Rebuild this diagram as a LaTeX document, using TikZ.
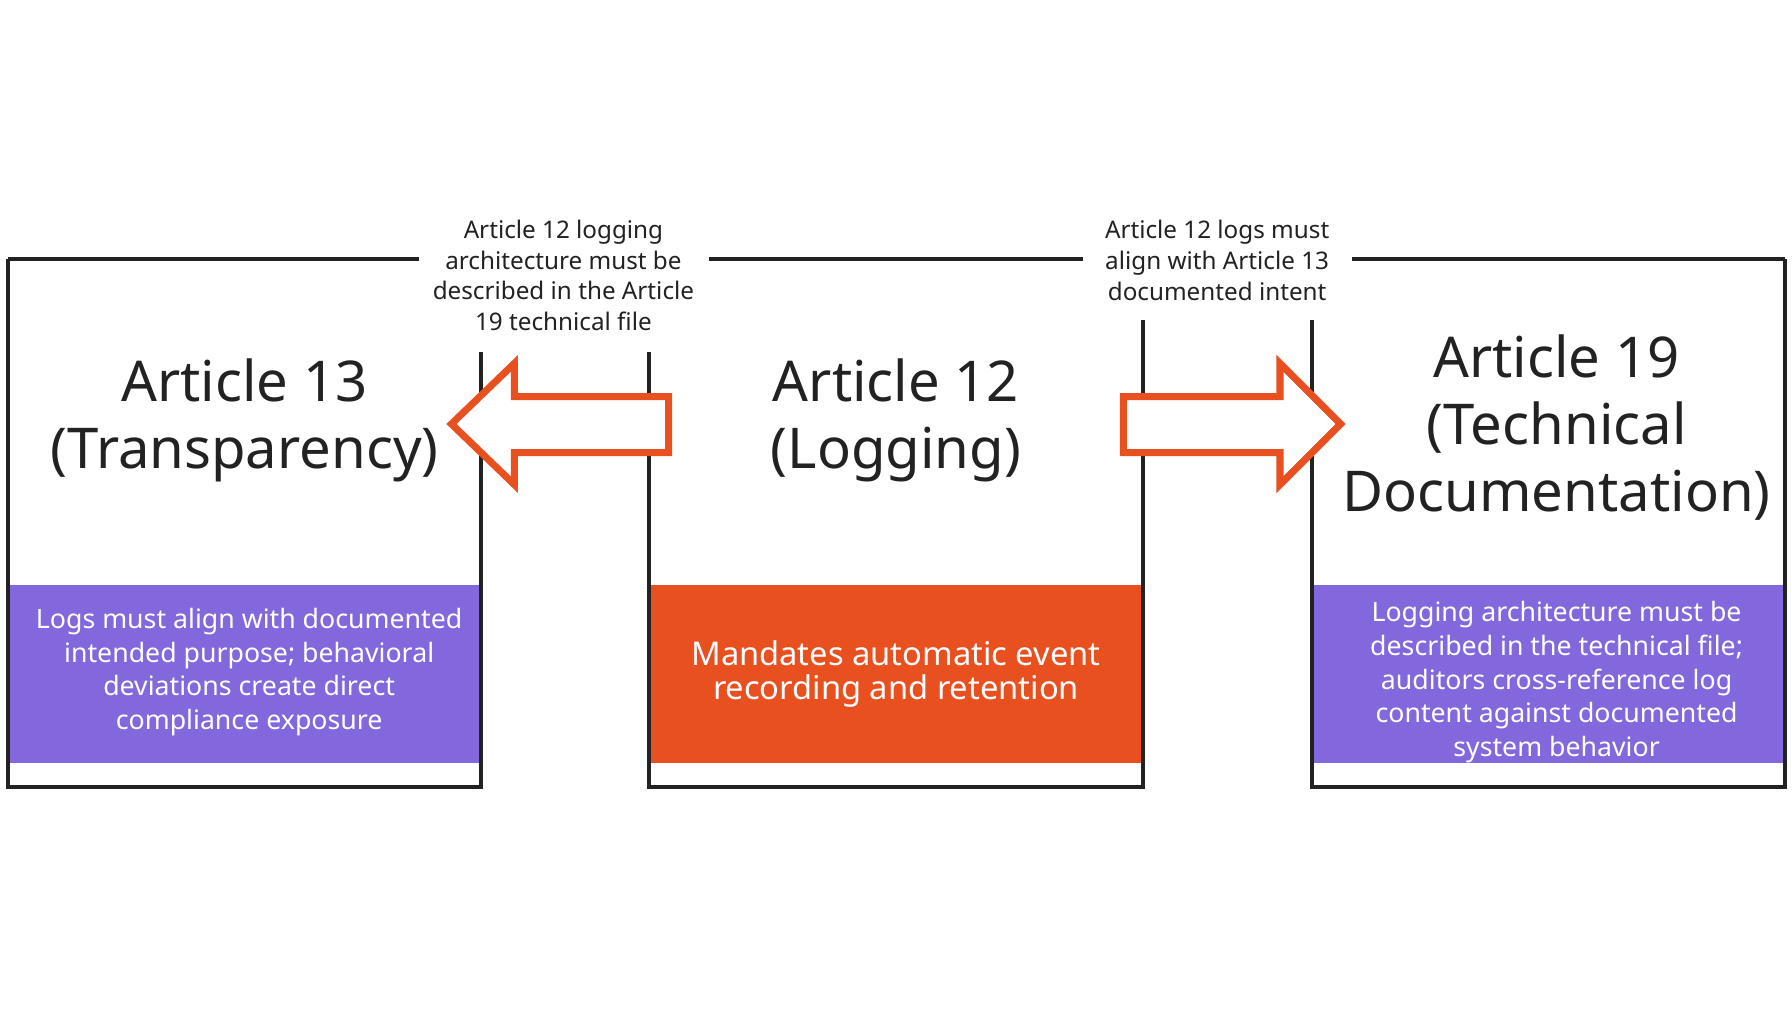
\documentclass[tikz,border=0pt]{standalone}
\usepackage{fontspec}
\setmainfont{Noto Sans}
\definecolor{purp}{HTML}{8367DD}
\definecolor{orng}{HTML}{E8501F}
\definecolor{ink}{HTML}{222222}
\begin{document}
\begin{tikzpicture}[x=0.011429cm,y=-0.011429cm,
  frame/.style={draw=ink,line width=1.1pt},
  title/.style={font=\fontsize{16}{19}\selectfont\bfseries,text=ink,align=center},
  lab/.style={font=\fontsize{6.9}{8.8}\selectfont,text=ink,align=center,fill=white,inner sep=1pt},
  band/.style={font=\fontsize{7.6}{9.6}\selectfont,text=white,align=center},
  arr/.style={draw=orng,line width=2pt,fill=white,line join=miter}]
\useasboundingbox (0,0) rectangle (1568,896);
\fill[white] (0,0) rectangle (1568,896);
% bands
\fill[purp] (7,512) rectangle (421,668);
\fill[orng] (568,512) rectangle (1000,668);
\fill[purp] (1148,512) rectangle (1562,668);
% frames
\coordinate (tl) at (7,227); \coordinate (tr) at (1562,227);
\draw[frame] (7,227) -- (367,227);
\draw[frame] (620,227) -- (948,227);
\draw[frame] (1183,227) -- (1562,227);
\draw[frame] (7,227) -- (7,689) -- (421,689) -- (421,308);
\draw[frame] (568,308) -- (568,689) -- (1000,689) -- (1000,280);
\draw[frame] (1148,280) -- (1148,689) -- (1562,689) -- (1562,227);
% titles
\node[title] (t13) at (214,368) {Article 13\\(Transparency)};
\node[title] (t12) at (784,368) {Article 12\\(Logging)};
\node[title] (t19) at (1362,374) {Article 19\\(Technical\\Documentation)};
% band texts
\node[band] (b13) at (218,588) {Logs must align with documented\\intended purpose; behavioral\\deviations create direct\\compliance exposure};
\node[band] (b12) at (784,590) {\fontsize{9.3}{11.5}\selectfont Mandates automatic event\\\fontsize{9.3}{11.5}\selectfont recording and retention};
\node[band] (b19) at (1362,597) {Logging architecture must be\\described in the technical file;\\auditors cross-reference log\\content against documented\\system behavior};
% arrows
\draw[arr] (585,347) -- (450,347) -- (450,318) -- (395,371) -- (450,424) -- (450,396) -- (585,396) -- cycle;
\draw[arr] (983,347) -- (1120,347) -- (1120,318) -- (1173,371) -- (1120,424) -- (1120,396) -- (983,396) -- cycle;
% labels
\node[lab] (l1) at (493,241) {Article 12 logging\\architecture must be\\described in the Article\\19 technical file};
\node[lab] (l2) at (1065,228) {Article 12 logs must\\align with Article 13\\documented intent};
\end{tikzpicture}
\end{document}
